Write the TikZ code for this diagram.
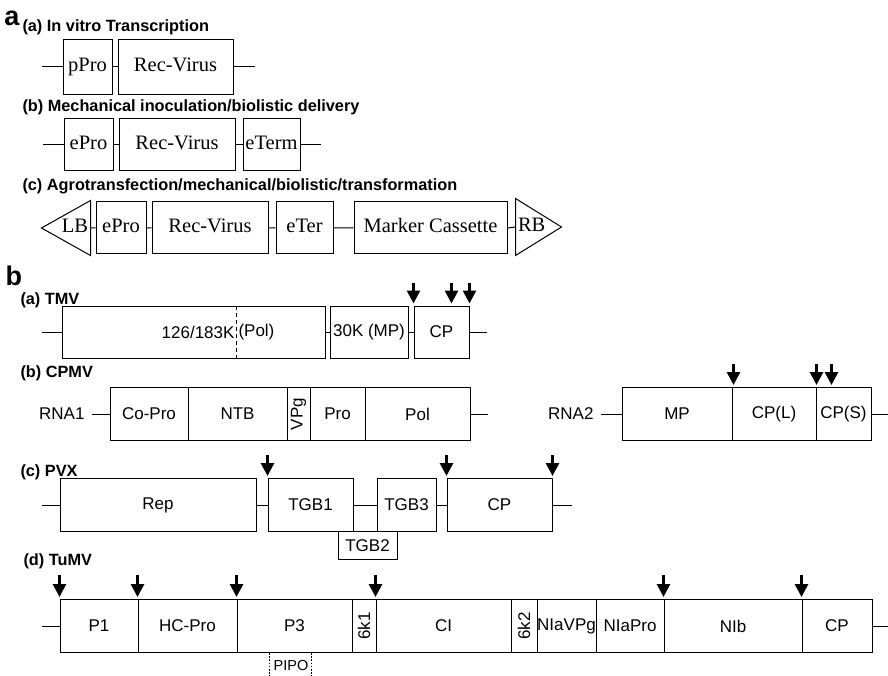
\documentclass[tikz,border=0pt]{standalone}
\usepackage{fontspec}
\setmainfont{Liberation Serif}
\setsansfont{Liberation Sans}
\usetikzlibrary{arrows.meta}

\begin{document}
\begin{tikzpicture}[x=1pt, y=-1pt, line width=1pt,
  tag/.style={anchor=west, inner sep=0pt, font=\sffamily\bfseries\fontsize{27}{30}\selectfont},
  head/.style={anchor=base west, inner sep=0pt, font=\sffamily\bfseries\fontsize{16.3}{18}\selectfont},
  cas/.style={draw, inner sep=0pt, text height=14pt, text depth=4.5pt, font=\rmfamily\fontsize{20.5}{22}\selectfont},
  seg/.style={draw, inner sep=0pt, minimum height=53pt, font=\sffamily\fontsize{17}{19}\selectfont},
  lbl/.style={inner sep=7pt, font=\sffamily\fontsize{17}{19}\selectfont},
  cut/.style={-{Triangle[width=13pt,length=13pt]}, line width=2.8pt},
  dots/.style={line width=1.8pt, dash pattern=on 1.6pt off 1.6pt}]
\path[use as bounding box, fill=white] (0,0) rectangle (888,676);

\node[tag] (ta) at (4,18) {a};
\node[head] (ha) at (22,32) {(a) In vitro Transcription};
\node[head] (hb) at (22,112) {(b) Mechanical inoculation/biolistic delivery};
\node[head] (hc) at (22,191) {(c) Agrotransfection/mechanical/biolistic/transformation};

\foreach \l/\r/\n/\t in {63/112/pp/pPro, 118/233/rv/Rec-Virus}
  \node[cas, minimum width=\r-\l, minimum height=55] (a-\n) at ({(\l+\r)/2},67) {\t};
\coordinate (a-s) at (42,67);
\coordinate (a-e) at (255,67);
\draw (a-s) -- (a-pp.west) (a-pp.east) -- (a-rv.west) (a-rv.east) -- (a-e);

\foreach \l/\r/\n/\t in {64/113/ep/ePro, 119/235/rv/Rec-Virus, 243/300/et/eTerm}
  \node[cas, minimum width=\r-\l, minimum height=52] (b-\n) at ({(\l+\r)/2},145) {\t};
\coordinate (b-s) at (43,145);
\coordinate (b-e) at (321,145);
\draw (b-s) -- (b-ep.west) (b-ep.east) -- (b-rv.west) (b-rv.east) -- (b-et.west) (b-et.east) -- (b-e);

\foreach \l/\r/\n/\t in {96/146/ep/ePro, 152/268/rv/Rec-Virus, 276/333/et/eTer, 354/507/mc/Marker Cassette}
  \node[cas, minimum width=\r-\l, minimum height=52] (c-\n) at ({(\l+\r)/2},228) {\t};
\node[cas, draw=none, minimum height=54, text width=44pt, align=right, inner sep=2pt] (c-lb) at (66,228) {LB};
\node[cas, draw=none, minimum height=56, text width=41pt, align=left, inner sep=2pt] (c-rb) at (538.5,227) {RB};
\draw (c-lb.north east) -- (c-lb.west) -- (c-lb.south east) -- cycle;
\draw (c-rb.north west) -- (c-rb.east) -- (c-rb.south west) -- cycle;
\draw (c-lb.east) -- (c-ep.west) (c-ep.east) -- (c-rv.west) (c-rv.east) -- (c-et.west)
  (c-et.east) -- (c-mc.west) (c-mc.east) -- (c-rb.west);

\node[tag] (tb) at (5,276) {b};
\node[head] (htm) at (20,304) {(a) TMV};
\node[head] (hcp) at (20,377) {(b) CPMV};
\node[head] (hpx) at (20,476) {(c) PVX};
\node[head] (htu) at (23,565) {(d) TuMV};

\foreach \l/\r/\n/\t in {62/325/rep/{}, 330/408/mp/30K (MP), 414/469/cp/CP}
  \node[seg, minimum width=\r-\l, minimum height=52] (tm-\n) at ({(\l+\r)/2},332) {\t};
\coordinate (tm-s) at (42,332);
\coordinate (tm-e) at (487,332);
\coordinate (tm-d) at ([xshift=175]tm-rep.west);
\draw (tm-s) -- (tm-rep.west) (tm-rep.east) -- (tm-mp.west) (tm-mp.east) -- (tm-cp.west) (tm-cp.east) -- (tm-e);
\draw[dash pattern=on 4pt off 3pt] (tm-d |- tm-rep.north) -- (tm-d |- tm-rep.south);
\node[lbl, anchor=east, inner sep=1.5pt] (tm-k) at (tm-d) {126/183K};
\node[lbl, anchor=west, inner sep=1.5pt] (tm-pol) at (tm-d) {(Pol)};
\draw[cut] (tm-cp.north west) ++(0,-23) -- ++(0,21);
\draw[cut] ([xshift=38]tm-cp.north west) ++(0,-23) -- ++(0,21);
\draw[cut] (tm-cp.north east) ++(0,-23) -- ++(0,21);

\foreach \l/\r/\n/\t/\a in {110/188/copro/Co-Pro/0, 188/287/ntb/NTB/0, 287/310/vpg/VPg/90, 310/365/pro/Pro/0, 365/470/pol/Pol/0}
  \node[seg, minimum width=\r-\l, minimum height=53] (r1-\n) at ({(\l+\r)/2},414) {\rotatebox{\a}{\t}};
\node[lbl, anchor=east] (rna1) at (92,414) {RNA1};
\coordinate (r1-e) at (488,414);
\draw (rna1.east) -- (r1-copro.west) (r1-pol.east) -- (r1-e);

\foreach \l/\r/\n/\t in {622/732/mp/MP, 732/816/cpl/CP(L), 816/871/cps/CP(S)}
  \node[seg, minimum width=\r-\l, minimum height=53] (r2-\n) at ({(\l+\r)/2},414) {\t};
\node[lbl, anchor=east] (rna2) at (601,414) {RNA2};
\coordinate (r2-e) at (888,414);
\draw (rna2.east) -- (r2-mp.west) (r2-cps.east) -- (r2-e);
\draw[cut] ([xshift=2]r2-cpl.north west) ++(0,-23) -- ++(0,21);
\draw[cut] ([xshift=1]r2-cps.north west) ++(0,-23) -- ++(0,21);
\draw[cut] ([xshift=16]r2-cps.north west) ++(0,-23) -- ++(0,21);

\foreach \l/\r/\n/\t in {60/256/rep/Rep, 268/353/tg1/TGB1, 377/436/tg3/TGB3, 447/552/cp/CP}
  \node[seg, minimum width=\r-\l, minimum height=53] (px-\n) at ({(\l+\r)/2},505) {\t};
\node[seg, minimum width=59, minimum height=28] (px-tg2) at (367.5,545.5) {TGB2};
\coordinate (px-s) at (42,505);
\coordinate (px-e) at (572,505);
\draw (px-s) -- (px-rep.west) (px-rep.east) -- (px-tg1.west) (px-tg1.east) -- (px-tg3.west)
  (px-tg3.east) -- (px-cp.west) (px-cp.east) -- (px-e);
\draw[cut] (px-tg1.north west) ++(0,-23) -- ++(0,21);
\draw[cut] (px-cp.north west) ++(0,-23) -- ++(0,21);
\draw[cut] (px-cp.north east) ++(0,-23) -- ++(0,21);

\foreach \l/\r/\n/\t/\a in {60/138/p1/P1/0, 138/237/hc/HC-Pro/0, 237/352/p3/P3/0, 352/376/k1/6k1/90,
    376/511/ci/CI/0, 511/537/k2/6k2/90, 537/596/vpg/NIaVPg/0, 596/664/pro/NIaPro/0, 664/802/nib/NIb/0, 802/872/cp/CP/0}
  \node[seg, minimum width=\r-\l] (tu-\n) at ({(\l+\r)/2},626) {\rotatebox{\a}{\t}};
\coordinate (tu-s) at (42,626);
\coordinate (tu-e) at (888,626);
\draw (tu-s) -- (tu-p1.west) (tu-cp.east) -- (tu-e);
\foreach \n in {p1, hc, p3, ci, nib, cp}
  \draw[cut] (tu-\n.north west) ++(0,-24) -- ++(0,22);
\draw[dots] ([xshift=33]tu-p3.south west) -- ++(0,24);
\draw[dots] ([xshift=75]tu-p3.south west) -- ++(0,24);
\node[lbl, inner sep=0pt, font=\sffamily\fontsize{14.5}{16}\selectfont] (pipo) at (291,666) {PIPO};
\end{tikzpicture}
\end{document}
